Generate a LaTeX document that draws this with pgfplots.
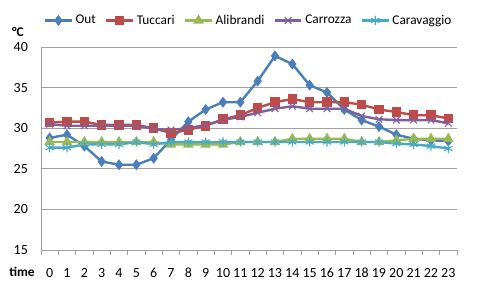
\documentclass[border=0pt]{standalone}
\usepackage{fontspec}
\setmainfont{Carlito}
\usepackage{pgfplots}
\pgfplotsset{compat=1.18}
\definecolor{cOut}{HTML}{4A7EBB}
\definecolor{cTuc}{HTML}{BE4B48}
\definecolor{cAli}{HTML}{98B954}
\definecolor{cCar}{HTML}{7D60A0}
\definecolor{cCav}{HTML}{46AAC5}
\definecolor{gridc}{HTML}{A0A0A0}
\begin{document}
\begin{tikzpicture}
\path[use as bounding box] (-30.75pt,-28.5pt) rectangle (329.25pt,187.5pt);
\begin{axis}[
  at={(0,0)}, anchor=south west,
  scale only axis, width=312pt, height=152.25pt,
  xmin=-0.5, xmax=23.5, ymin=15, ymax=40,
  xtick={0,...,23}, major x tick style={draw=none},
  minor xtick={-0.5,0.5,...,23.5},
  minor tick length=4pt,
  xtick pos=bottom, ytick pos=left,
  tick align=outside,
  ytick={15,20,...,40}, major y tick style={draw=none},
  ymajorgrids, grid style={gridc, line width=0.6pt},
  axis x line*=bottom, axis y line*=left,
  axis line style={gridc, line width=0.6pt, -},
  every tick/.style={gridc, line width=0.6pt},
  tick label style={font=\fontsize{10.5}{12}\selectfont},
  /pgf/number format/assume math mode=true,
  xticklabel style={yshift=-6pt},
  yticklabel style={xshift=-2pt},
  clip=false,
  legend columns=5,
  legend style={draw=none, fill=none, at={(0.5,1.0)}, anchor=south, yshift=11.5pt,
    font=\fontsize{10}{12}\selectfont, /tikz/every even column/.append style={column sep=5pt}},
  legend image code/.code={
    \draw[#1, mark repeat=2, mark phase=2] plot coordinates {(0cm,0cm) (0.35cm,0cm) (0.7cm,0cm)};},
  every axis plot/.append style={line width=1.8pt, mark options={solid, line width=0.8pt}},
]
\addplot[color=cOut, mark=diamond*, mark size=3.5pt] coordinates {
(0,28.8) (1,29.2) (2,27.8) (3,25.9) (4,25.5) (5,25.5) (6,26.3) (7,28.6) (8,30.8) (9,32.3) (10,33.2) (11,33.2)
(12,35.8) (13,38.9) (14,37.9) (15,35.3) (16,34.4) (17,32.3) (18,31.0) (19,30.2) (20,29.2) (21,28.7) (22,28.5) (23,28.4)};
\addlegendentry{Out}
\addplot[color=cTuc, mark=square*, mark size=3.2pt] coordinates {
(0,30.7) (1,30.8) (2,30.8) (3,30.4) (4,30.4) (5,30.4) (6,30.0) (7,29.4) (8,29.8) (9,30.3) (10,31.1) (11,31.6)
(12,32.5) (13,33.2) (14,33.6) (15,33.2) (16,33.2) (17,33.2) (18,32.9) (19,32.3) (20,32.0) (21,31.6) (22,31.6) (23,31.2)};
\addlegendentry{Tuccari}
\addplot[color=cAli, mark=triangle*, mark size=3.8pt] coordinates {
(0,28.3) (1,28.3) (2,28.3) (3,28.3) (4,28.3) (5,28.3) (6,28.3) (7,28.0) (8,28.0) (9,28.0) (10,28.0) (11,28.3)
(12,28.3) (13,28.3) (14,28.7) (15,28.7) (16,28.7) (17,28.7) (18,28.3) (19,28.3) (20,28.5) (21,28.7) (22,28.7) (23,28.7)};
\addlegendentry{Alibrandi}
\addplot[color=cCar, mark=x, mark size=3.5pt] coordinates {
(0,30.5) (1,30.3) (2,30.3) (3,30.3) (4,30.3) (5,30.3) (6,29.9) (7,29.8) (8,30.0) (9,30.4) (10,31.0) (11,31.4)
(12,31.9) (13,32.4) (14,32.7) (15,32.4) (16,32.4) (17,32.4) (18,31.5) (19,31.1) (20,31.0) (21,31.0) (22,31.0) (23,30.6)};
\addlegendentry{Carrozza}
\addplot[color=cCav, mark=asterisk, mark size=3.5pt] coordinates {
(0,27.6) (1,27.6) (2,28.0) (3,28.0) (4,28.0) (5,28.3) (6,28.0) (7,28.3) (8,28.3) (9,28.3) (10,28.3) (11,28.3)
(12,28.3) (13,28.3) (14,28.3) (15,28.3) (16,28.3) (17,28.3) (18,28.3) (19,28.3) (20,28.1) (21,28.0) (22,27.8) (23,27.5)};
\addlegendentry{Caravaggio}
\end{axis}
\node[font=\bfseries\fontsize{10}{12}\selectfont] at (-14.25pt,-16.5pt) {time};
\node[font=\bfseries\fontsize{10}{12}\selectfont] at (-17.25pt,163.5pt) {°C};
\end{tikzpicture}
\end{document}
